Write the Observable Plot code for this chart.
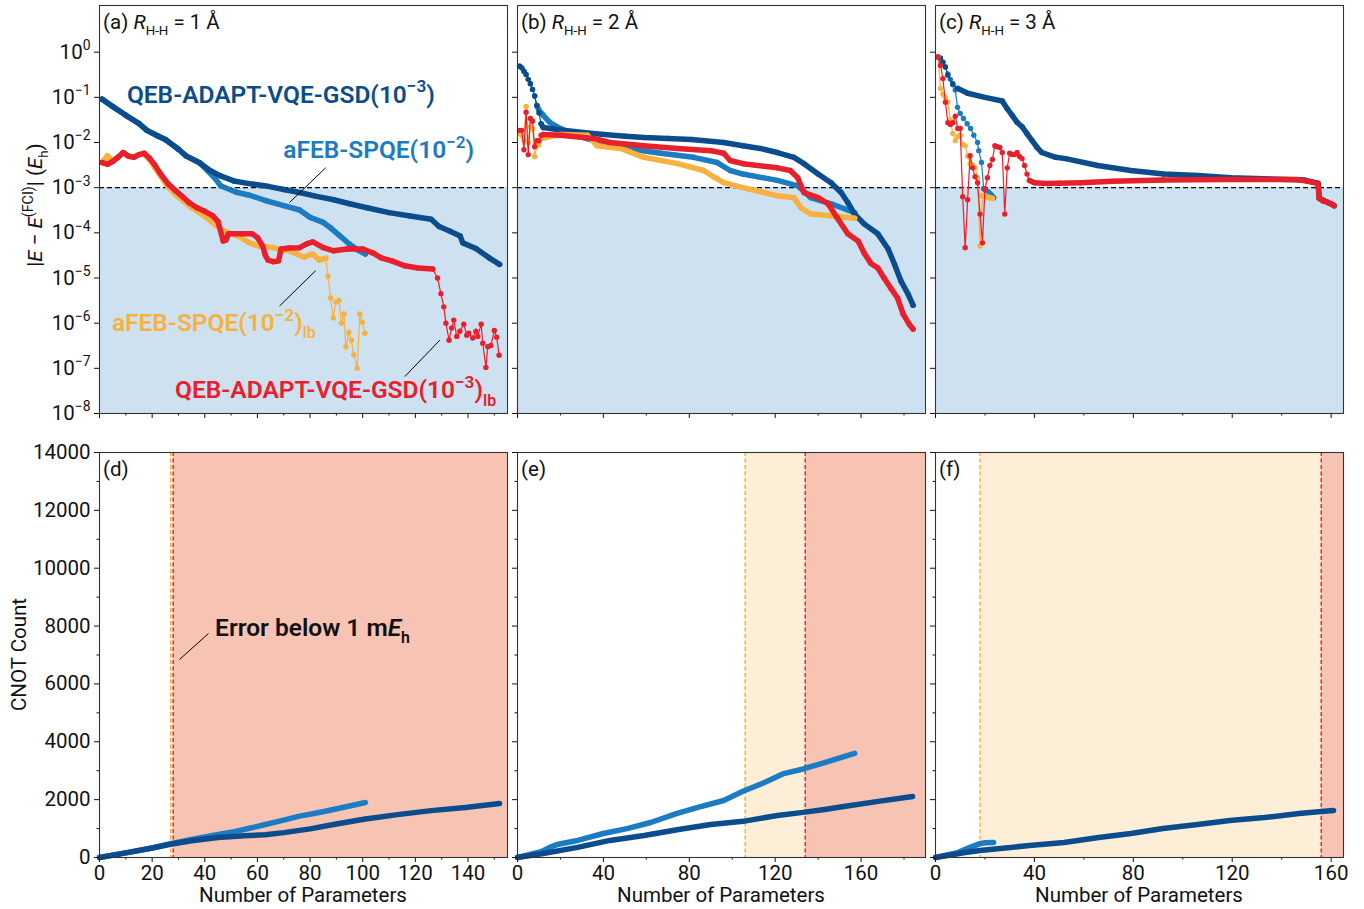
<!DOCTYPE html>
<html><head><meta charset="utf-8">
<script src="https://cdn.jsdelivr.net/npm/d3@7"></script>
<script src="https://cdn.jsdelivr.net/npm/@observablehq/plot@0.6"></script>
<style>
body{margin:0;background:#fff;}
#chart{position:relative;width:1364px;height:909px;background:#fff;font-family:Roboto,sans-serif;}
#chart svg{position:absolute;background:transparent;}
</style></head><body><div id="chart"></div>
<script>
// ---------------- DATA ----------------
// x ticks / domains
const xDomainA = [0, 155], xDomainB = [0, 190], xDomainC = [0, 165];
const xMajorA = [0, 20, 40, 60, 80, 100, 120, 140];
const xMinorA = [10, 30, 50, 70, 90, 110, 130, 150];
const xMajorBC = [0, 40, 80, 120, 160];
const xMinorB = [20, 60, 100, 140, 180];
const xMinorC = [20, 60, 100, 140];
const yTopDomain = [1e-8, 10.8];
const yTopTicks = [1e-8, 1e-7, 1e-6, 1e-5, 1e-4, 1e-3, 1e-2, 1e-1, 1];
const yBotDomain = [0, 14000];
const yBotMajor = [0, 2000, 4000, 6000, 8000, 10000, 12000, 14000];
const yBotMinor = [1000, 3000, 5000, 7000, 9000, 11000, 13000];
const chemAccuracy = 1e-3;

// (a) R = 1 Å : |E - E_FCI| vs number of parameters
const a_qeb = [[1,9.1e-2],[5,6.3e-2],[10,4.0e-2],[15,2.63e-2],[18,1.86e-2],[22,1.41e-2],[25,1.17e-2],[30,7.1e-3],[33,5.0e-3],[38,3.55e-3],[42,2.4e-3],[46,1.82e-3],[51,1.41e-3],[58,1.2e-3],[64,1.07e-3],[70,9.1e-4],[76,7.8e-4],[82,6.5e-4],[89,5.4e-4],[95,4.4e-4],[102,3.55e-4],[110,2.8e-4],[118,2.35e-4],[126,2.0e-4],[129,1.38e-4],[133,1.1e-4],[137,8.5e-5],[138,6.0e-5],[143,4.5e-5],[148,2.8e-5],[152,2.0e-5]];
const a_afeb = [[1,9.1e-2],[5,6.3e-2],[10,4.0e-2],[15,2.63e-2],[18,1.86e-2],[22,1.41e-2],[25,1.17e-2],[30,7.1e-3],[33,5.0e-3],[38,3.55e-3],[41,2.4e-3],[44,1.58e-3],[46,1.1e-3],[52,7.9e-4],[57,6.8e-4],[63,5.2e-4],[70,4.0e-4],[76,3.2e-4],[80,2.2e-4],[85,1.7e-4],[88,1.26e-4],[91,8.9e-5],[95,5.6e-5],[98,4.2e-5],[101,3.4e-5]];
const a_qebLb = [[1,3.6e-3],[3,3.3e-3],[5,3.8e-3],[7,4.7e-3],[9,6.0e-3],[11,5.0e-3],[13,4.7e-3],[15,5.4e-3],[17,5.8e-3],[19,4.5e-3],[21,3.2e-3],[23,2.1e-3],[26,1.23e-3],[29,8.5e-4],[32,6.0e-4],[34,4.7e-4],[37,3.6e-4],[40,3.0e-4],[43,2.4e-4],[45,1.78e-4],[46,1.1e-4],[47,6.6e-5],[48,6.9e-5],[49,9.5e-5],[54,9.5e-5],[58,9.5e-5],[60,7.9e-5],[62,5.0e-5],[63,3.2e-5],[64,2.5e-5],[66,2.3e-5],[68,2.4e-5],[69,4.4e-5],[72,4.6e-5],[76,4.7e-5],[79,5.8e-5],[81,6.3e-5],[85,4.7e-5],[89,4.0e-5],[94,4.4e-5],[100,4.4e-5],[104,3.55e-5],[107,2.8e-5],[111,2.4e-5],[116,1.86e-5],[121,1.66e-5],[126.6,1.58e-5],[128.4,1.0e-5],[129.7,4.5e-6],[130.8,2.3e-6],[131.6,1.0e-6],[132.8,4.2e-7],[133.8,7.8e-7],[134.6,1.17e-6],[135.7,5.1e-7],[136.9,6.6e-7],[138.4,9.5e-7],[139.5,5.4e-7],[140.3,6.0e-7],[141.8,4.7e-7],[143,6.6e-7],[143.7,5.1e-7],[145,9.5e-7],[145.6,3.6e-7],[146.8,1.05e-7],[147.5,3.0e-7],[148.7,3.2e-7],[150,6.9e-7],[150.9,4.9e-7],[151.8,1.95e-7]];
const a_afebLb = [[1,3.6e-3],[3,5.1e-3],[5,4.0e-3],[7,4.7e-3],[9,5.8e-3],[11,5.0e-3],[13,4.7e-3],[15,5.4e-3],[17,5.5e-3],[19,4.2e-3],[21,2.8e-3],[23,1.9e-3],[26,1.05e-3],[29,6.9e-4],[32,5.0e-4],[35,3.6e-4],[38,2.8e-4],[41,2.1e-4],[44,1.5e-4],[47,1.12e-4],[50,9.5e-5],[53,8.3e-5],[57,6.0e-5],[60,5.2e-5],[63,5.0e-5],[66,4.7e-5],[69,4.2e-5],[72,4.0e-5],[75,3.4e-5],[77.6,2.9e-5],[81,3.4e-5],[83.4,2.5e-5],[86,2.75e-5],[86.8,1.1e-5],[87.8,3.6e-6],[88.8,1.3e-6],[89.8,2.95e-6],[91,3.2e-6],[91.9,1.0e-6],[92.9,1.6e-6],[93.6,3.0e-7],[94.7,6.3e-7],[95.7,4.2e-7],[96.6,2.0e-7],[97.9,1.0e-7],[98.9,1.6e-6],[99.8,1.05e-6],[100.8,6.0e-7]];

// (b) R = 2 Å
const b_qeb = [[1,0.49],[2,0.45],[3,0.38],[4,0.32],[5,0.25],[6,0.2],[7,0.15],[8,0.107],[9,0.066],[10,0.045],[11,0.026],[12,0.0214],[20,0.019],[35,0.0158],[50,0.0138],[59,0.0129],[70,0.0123],[81,0.0117],[96,0.010],[105,8.5e-3],[113,7.4e-3],[121,6.0e-3],[128.7,4.7e-3],[133.4,3.4e-3],[140,2.0e-3],[146,1.29e-3],[150.7,7.8e-4],[153.8,4.7e-4],[157,2.6e-4],[161.4,1.58e-4],[167.8,9.5e-5],[172.6,4.4e-5],[175.6,2.0e-5],[178.6,8.5e-6],[181.9,4.4e-6],[184.2,2.5e-6]];
const b_afeb = [[1,0.49],[2,0.45],[3,0.38],[4,0.32],[5,0.25],[6,0.2],[7,0.15],[8,0.107],[9,0.066],[10,0.052],[12,0.040],[15,0.028],[20,0.0204],[28,0.0141],[35.5,0.011],[51,7.4e-3],[66.7,5.8e-3],[82,4.7e-3],[93,3.6e-3],[99,2.4e-3],[105,2.0e-3],[121,1.45e-3],[130.5,1.1e-3],[136.6,6.0e-4],[146,4.4e-4],[157,2.8e-4]];
const b_qebLb = [[1,1.86e-2],[2,1.86e-2],[3,6.9e-3],[4,4.7e-2],[5,5.4e-3],[6,3.4e-2],[7,2.95e-2],[8,8.1e-3],[9,1.1e-2],[10,1.1e-2],[11,1.45e-2],[12,1.5e-2],[20,1.45e-2],[35.5,1.23e-2],[43,1.0e-2],[58.8,8.5e-3],[74.5,7.4e-3],[90,6.6e-3],[96,5.8e-3],[99,4.0e-3],[105,3.4e-3],[121,2.75e-3],[127,2.4e-3],[130.5,1.66e-3],[132,1.1e-3],[133.4,7.8e-4],[140,6.0e-4],[144.6,4.4e-4],[149,2.1e-4],[153.8,9.5e-5],[158.6,6.6e-5],[161.4,3.6e-5],[164.6,2.1e-5],[167.8,1.66e-5],[170.7,1.0e-5],[174,5.8e-6],[177,3.6e-6],[179.6,1.58e-6],[182.4,9.5e-7],[184.2,7.4e-7]];
const b_afebLb = [[1,1.58e-2],[2,1.41e-2],[3,1.12e-2],[4,6.3e-2],[5,1.0e-2],[6,2.2e-2],[7,2.0e-2],[8,4.9e-3],[9,8.5e-3],[10,8.9e-3],[12,1.26e-2],[20,1.5e-2],[32.6,1.45e-2],[37,8.5e-3],[48,7.4e-3],[58.8,4.7e-3],[74.5,3.4e-3],[86.7,2.4e-3],[92,1.66e-3],[96,1.29e-3],[105,1.0e-3],[121,6.6e-4],[128.7,6.0e-4],[132,3.6e-4],[136.6,2.6e-4],[146,2.4e-4],[157,2.1e-4]];

// (c) R = 3 Å
const c_qeb = [[1,0.78],[2,0.74],[3,0.6],[4,0.47],[5,0.31],[7,0.2],[9,0.158],[13,0.123],[20,0.1],[27,0.083],[29,0.056],[31,0.040],[33,0.028],[35,0.0224],[37,0.0158],[39,0.0112],[41,7.9e-3],[43,6.0e-3],[48.6,4.7e-3],[52.6,4.4e-3],[65.6,3.1e-3],[79,2.4e-3],[92.3,2.0e-3],[106,1.86e-3],[119.4,1.66e-3],[132.8,1.58e-3],[149,1.48e-3],[154.7,1.26e-3],[155.2,5.8e-4],[158.7,4.7e-4],[161.2,4.0e-4]];
const c_afeb = [[1,0.78],[2,0.74],[3,0.6],[4,0.47],[5,0.33],[6,0.25],[7,0.19],[8,0.145],[8.9,0.06],[10,0.044],[11.3,0.034],[12.8,0.026],[14.2,0.0204],[15.5,0.0145],[17,0.010],[17.5,6.6e-3],[18.6,3.6e-3],[19.5,9.5e-4],[20.5,8.5e-4],[21.5,7.8e-4],[22.5,6.9e-4],[23.5,6.0e-4]];
const c_qebLb = [[1,0.78],[2,0.51],[3,0.26],[4,0.078],[5,0.0275],[6,0.025],[7,0.0275],[8,0.038],[9,0.0204],[10,0.0204],[11,6.3e-4],[12,4.7e-5],[13,5.4e-4],[14,5.1e-3],[15,2.75e-3],[16,1.74e-3],[17,1.29e-3],[18,2.6e-4],[19,6.0e-5],[20,9.5e-4],[21,1.66e-3],[22,3.1e-3],[23,4.2e-3],[24,8.5e-3],[25,8.1e-3],[26,7.8e-3],[27,6.0e-3],[28,2.6e-4],[29,2.75e-3],[30,5.8e-3],[31,5.4e-3],[32,5.4e-3],[33,6.0e-3],[34,4.9e-3],[35,4.4e-3],[36,3.1e-3],[37,2.0e-3],[38,1.45e-3],[40,1.29e-3],[45,1.23e-3],[50,1.26e-3],[58.7,1.29e-3],[72,1.38e-3],[92,1.48e-3],[119,1.51e-3],[146.6,1.51e-3],[150.6,1.38e-3],[154.7,1.23e-3],[155.2,5.8e-4],[156.7,5.1e-4],[158.7,4.7e-4],[160,4.4e-4],[161.2,4.0e-4]];
const c_afebLb = [[1,0.78],[2,0.158],[3,0.117],[4,0.10],[5,0.079],[6,0.032],[7,0.0158],[8,0.011],[9,0.0135],[10,0.0145],[11,9.1e-3],[12,8.5e-3],[13,5.0e-3],[14,3.4e-3],[15,3.2e-3],[16,2.75e-3],[17,1.66e-3],[18,5.1e-5],[19,6.6e-4],[20,6.6e-4],[21,6.3e-4],[22,6.0e-4],[23,5.8e-4]];

// (d)-(f) CNOT counts vs number of parameters
const d_qeb = [[0,0],[10,160],[20,330],[27,460],[35,580],[45,690],[55,750],[63,790],[70,860],[80,990],[90,1160],[101,1330],[114,1490],[126,1620],[139,1730],[152,1870]];
const d_afeb = [[0,0],[10,160],[20,330],[27,480],[35,620],[43,760],[50,870],[57,1010],[63,1140],[70,1290],[76,1430],[82,1530],[88,1640],[95,1780],[101,1900]];
const e_qeb = [[0,0],[12,140],[28,350],[43,590],[59,760],[75,970],[90,1140],[105,1250],[121,1450],[133,1560],[143,1660],[152,1760],[168,1940],[184,2110]];
const e_afeb = [[0,0],[11,200],[15,350],[19,460],[28,590],[40,830],[51,1000],[62,1210],[74,1520],[84,1730],[96,1970],[105,2290],[115,2590],[124,2900],[133,3060],[143,3280],[152,3490],[157,3600]];
const f_qeb = [[0,0],[12,170],[18,240],[38,415],[52,520],[66,690],[79,830],[92,1000],[106,1140],[119,1280],[133,1380],[147,1520],[156,1590],[161,1625]];
const f_afeb = [[0,0],[9,170],[14,350],[18,480],[20,510],[23.5,520]];
// first parameter count with error below 1 mEh: [aFEB-SPQE lb, QEB-ADAPT-VQE lb]
const d_below = [27, 28];
const e_below = [106, 134];
const f_below = [18, 156];

// ---------------- STYLE / LAYOUT ----------------
const C = {dark:"#0b4d8c", mid:"#1b7bc3", orange:"#f8b13f", red:"#e8202b",
  fillBlue:"#cde1f0", fillOrange:"#fdeed8", fillSalmon:"#f7c4b3", frame:"#333", text:"#111"};
const FONT = 20.5;
const ANN = 24.5;
const chart = document.getElementById("chart");
const X = d => d[0], Y = d => d[1];

function seriesMarks(data, color, dense) {
  const thick = data.filter(d => d[0] >= dense[0] && d[0] <= dense[1]);
  return [
    Plot.line(data, {x: X, y: Y, stroke: color, strokeWidth: 1.2}),
    Plot.line(thick, {x: X, y: Y, stroke: color, strokeWidth: 5.5, strokeLinecap: "round", strokeLinejoin: "round"}),
    Plot.dot(data, {x: X, y: Y, r: 2.7, fill: color, stroke: "none"})
  ];
}

function rich(svg, x, y, parts, o = {}) {
  const size = o.size || FONT;
  const t = d3.select(svg).append("text")
    .attr("transform", `translate(${x},${y})` + (o.rotate ? ` rotate(${o.rotate})` : ""))
    .attr("font-family", "Roboto, sans-serif")
    .attr("font-size", size)
    .attr("font-weight", o.weight || 400)
    .attr("fill", o.fill || C.text)
    .attr("text-anchor", o.anchor || "start");
  let cur = 0;
  for (const [s, k] of parts) {
    let shift = 0, fs = size;
    if (k === "sup") { shift = -0.42 * size; fs = 0.7 * size; }
    else if (k === "sub") { shift = 0.3 * size; fs = 0.65 * size; }
    const ts = t.append("tspan").attr("dy", shift - cur).attr("font-size", fs).text(s);
    if (k === "i") ts.attr("font-style", "italic");
    cur = shift;
  }
  return t;
}

function place(svg, left, top) {
  svg.style.position = "absolute";
  svg.style.left = left + "px";
  svg.style.top = top + "px";
  svg.style.maxWidth = "none";
  chart.appendChild(svg);
  return svg;
}

const FW = 408; // frame width
const TOP = {svgTop: 0, mt: 5, fh: 408, mb: 12};
const BOT = {svgTop: 430, mt: 22, fh: 405, mb: 52};
const cols = [
  {svgLeft: 0, ml: 99, mr: 5, xDomain: xDomainA, xMajor: xMajorA, xMinor: xMinorA},
  {svgLeft: 507, ml: 10, mr: 5, xDomain: xDomainB, xMajor: xMajorBC, xMinor: xMinorB},
  {svgLeft: 925, ml: 10, mr: 10, xDomain: xDomainC, xMajor: xMajorBC, xMinor: xMinorC}
];

function superTicks(svg) {
  d3.select(svg).selectAll('g[aria-label="y-axis tick label"] text').each(function() {
    const s = this.textContent;
    const e = s.split("^")[1];
    const t = d3.select(this);
    t.text("");
    t.append("tspan").text("10");
    t.append("tspan").attr("dy", -0.42 * FONT).attr("font-size", 0.68 * FONT).text(e.replace("-", "\u2212"));
  });
}

// ---------- top row ----------
const topSeries = [
  [[a_afeb, C.mid, [0, 999]], [a_qeb, C.dark, [0, 999]], [a_afebLb, C.orange, [0, 86]], [a_qebLb, C.red, [0, 127]]],
  [[b_afeb, C.mid, [9, 999]], [b_qeb, C.dark, [11, 999]], [b_afebLb, C.orange, [12, 999]], [b_qebLb, C.red, [12, 999]]],
  [[c_afeb, C.mid, [19, 999]], [c_qeb, C.dark, [9, 999]], [c_afebLb, C.orange, [19, 999]], [c_qebLb, C.red, [38, 999]]]
];
const topNames = [["(a) ", "1"], ["(b) ", "2"], ["(c) ", "3"]];
const topSvgs = [];
cols.forEach((col, i) => {
  const marks = [
    Plot.rect([{x1: col.xDomain[0], x2: col.xDomain[1], y1: yTopDomain[0], y2: chemAccuracy}],
      {x1: "x1", x2: "x2", y1: "y1", y2: "y2", fill: C.fillBlue}),
    Plot.ruleY([chemAccuracy], {stroke: "#000", strokeWidth: 1.3, strokeDasharray: "5,3"})
  ];
  topSeries[i].forEach(([d, c, r]) => marks.push(...seriesMarks(d, c, r)));
  if (i === 0) {
    marks.push(Plot.link([
      {x1: 72.2, y1: 4.7e-4, x2: 85.9, y2: 2.75e-3},
      {x1: 68.4, y1: 2.4e-6, x2: 82.1, y2: 1.45e-5},
      {x1: 116, y1: 6.6e-8, x2: 129.3, y2: 4.2e-7}
    ], {x1: "x1", y1: "y1", x2: "x2", y2: "y2", stroke: "#000", strokeWidth: 1}));
  }
  marks.push(
    Plot.axisX({ticks: col.xMajor, tickSize: 5, tickFormat: () => "", label: null}),
    Plot.axisX({ticks: col.xMinor, tickSize: 2.5, tickFormat: () => "", label: null}),
    Plot.axisY({ticks: yTopTicks, tickSize: 5, tickPadding: 4, label: null,
      tickFormat: i === 0 ? (d => "10^" + Math.round(Math.log10(d))) : () => ""}),
    Plot.frame({stroke: C.frame, strokeWidth: 1.1})
  );
  const svg = Plot.plot({
    width: col.ml + FW + col.mr, height: TOP.mt + TOP.fh + TOP.mb,
    marginLeft: col.ml, marginRight: col.mr, marginTop: TOP.mt, marginBottom: TOP.mb,
    x: {domain: col.xDomain}, y: {type: "log", domain: yTopDomain},
    style: {fontFamily: "Roboto, sans-serif", fontSize: FONT + "px", color: C.text, background: "transparent", overflow: "visible"},
    marks
  });
  place(svg, col.svgLeft, TOP.svgTop);
  if (i === 0) superTicks(svg);
  rich(svg, col.ml + 4, TOP.mt + 24, [[topNames[i][0], "n"], ["R", "i"], ["H-H", "sub"], [" = " + topNames[i][1] + " \u00C5", "n"]]);
  topSvgs.push(svg);
});

// annotations panel (a)
{
  const svg = topSvgs[0];
  const sx = svg.scale("x"), sy = svg.scale("y");
  rich(svg, sx.apply(10.6), sy.apply(7.4e-2), [["QEB-ADAPT-VQE-GSD(10", "n"], ["\u22123", "sup"], [")", "n"]], {fill: C.dark, weight: 600, size: ANN});
  rich(svg, sx.apply(70), sy.apply(4.4e-3), [["aFEB-SPQE(10", "n"], ["\u22122", "sup"], [")", "n"]], {fill: C.mid, weight: 600, size: ANN});
  rich(svg, sx.apply(4.9), sy.apply(6.6e-7), [["aFEB-SPQE(10", "n"], ["\u22122", "sup"], [")", "n"], ["lb", "sub"]], {fill: C.orange, weight: 600, size: ANN});
  rich(svg, sx.apply(28.9), sy.apply(2.1e-8), [["QEB-ADAPT-VQE-GSD(10", "n"], ["\u22123", "sup"], [")", "n"], ["lb", "sub"]], {fill: C.red, weight: 600, size: ANN});
  rich(svg, 42, 205, [["|", "n"], ["E", "i"], [" \u2212 ", "n"], ["E", "i"], ["(FCI)", "sup"], ["| (", "n"], ["E", "i"], ["h", "sub"], [")", "n"]], {rotate: -90, anchor: "middle"});
}

// ---------- bottom row ----------
const botSeries = [[d_afeb, d_qeb, d_below], [e_afeb, e_qeb, e_below], [f_afeb, f_qeb, f_below]];
const botNames = ["(d)", "(e)", "(f)"];
cols.forEach((col, i) => {
  const [afeb, qeb, below] = botSeries[i];
  const marks = [
    Plot.rect([{x1: below[0], x2: below[1], y1: yBotDomain[0], y2: yBotDomain[1]}],
      {x1: "x1", x2: "x2", y1: "y1", y2: "y2", fill: C.fillOrange}),
    Plot.rect([{x1: below[1], x2: col.xDomain[1], y1: yBotDomain[0], y2: yBotDomain[1]}],
      {x1: "x1", x2: "x2", y1: "y1", y2: "y2", fill: C.fillSalmon}),
    Plot.ruleX([below[0]], {stroke: C.orange, strokeWidth: 1.4, strokeDasharray: "4,2.5"}),
    Plot.ruleX([below[1]], {stroke: C.red, strokeWidth: 1.4, strokeDasharray: "4,2.5"}),
    Plot.line(afeb, {x: X, y: Y, stroke: C.mid, strokeWidth: 5.5, strokeLinecap: "round", strokeLinejoin: "round"}),
    Plot.line(qeb, {x: X, y: Y, stroke: C.dark, strokeWidth: 5.5, strokeLinecap: "round", strokeLinejoin: "round"})
  ];
  if (i === 0) {
    marks.push(Plot.link([{x1: 30.4, y1: 6845, x2: 41.4, y2: 7744}],
      {x1: "x1", y1: "y1", x2: "x2", y2: "y2", stroke: "#000", strokeWidth: 1}));
  }
  marks.push(
    Plot.axisX({ticks: col.xMajor, tickSize: 5, tickPadding: 3, tickFormat: d => String(d), label: null}),
    Plot.axisX({ticks: col.xMinor, tickSize: 2.5, tickFormat: () => "", label: null}),
    Plot.axisY({ticks: yBotMajor, tickSize: 5, tickPadding: 4, label: null,
      tickFormat: i === 0 ? (d => String(d)) : () => ""}),
    Plot.axisY({ticks: yBotMinor, tickSize: 2.5, tickFormat: () => "", label: null}),
    Plot.frame({stroke: C.frame, strokeWidth: 1.1})
  );
  const svg = Plot.plot({
    width: col.ml + FW + col.mr, height: BOT.mt + BOT.fh + BOT.mb,
    marginLeft: col.ml, marginRight: col.mr, marginTop: BOT.mt, marginBottom: BOT.mb,
    x: {domain: col.xDomain}, y: {domain: yBotDomain},
    style: {fontFamily: "Roboto, sans-serif", fontSize: FONT + "px", color: C.text, background: "transparent", overflow: "visible"},
    marks
  });
  place(svg, col.svgLeft, BOT.svgTop);
  rich(svg, col.ml + 4, BOT.mt + 24, [[botNames[i], "n"]]);
  rich(svg, col.ml + FW / 2, BOT.mt + BOT.fh + 45, [["Number of Parameters", "n"]], {anchor: "middle"});
  if (i === 0) {
    rich(svg, 26, BOT.mt + BOT.fh / 2, [["CNOT Count", "n"]], {rotate: -90, anchor: "middle"});
    const sx = svg.scale("x"), sy = svg.scale("y");
    rich(svg, sx.apply(44.1), sy.apply(7640), [["Error below 1 m", "n"], ["E", "i"], ["h", "sub"]], {weight: 600, size: ANN});
  }
});
</script></body></html>
